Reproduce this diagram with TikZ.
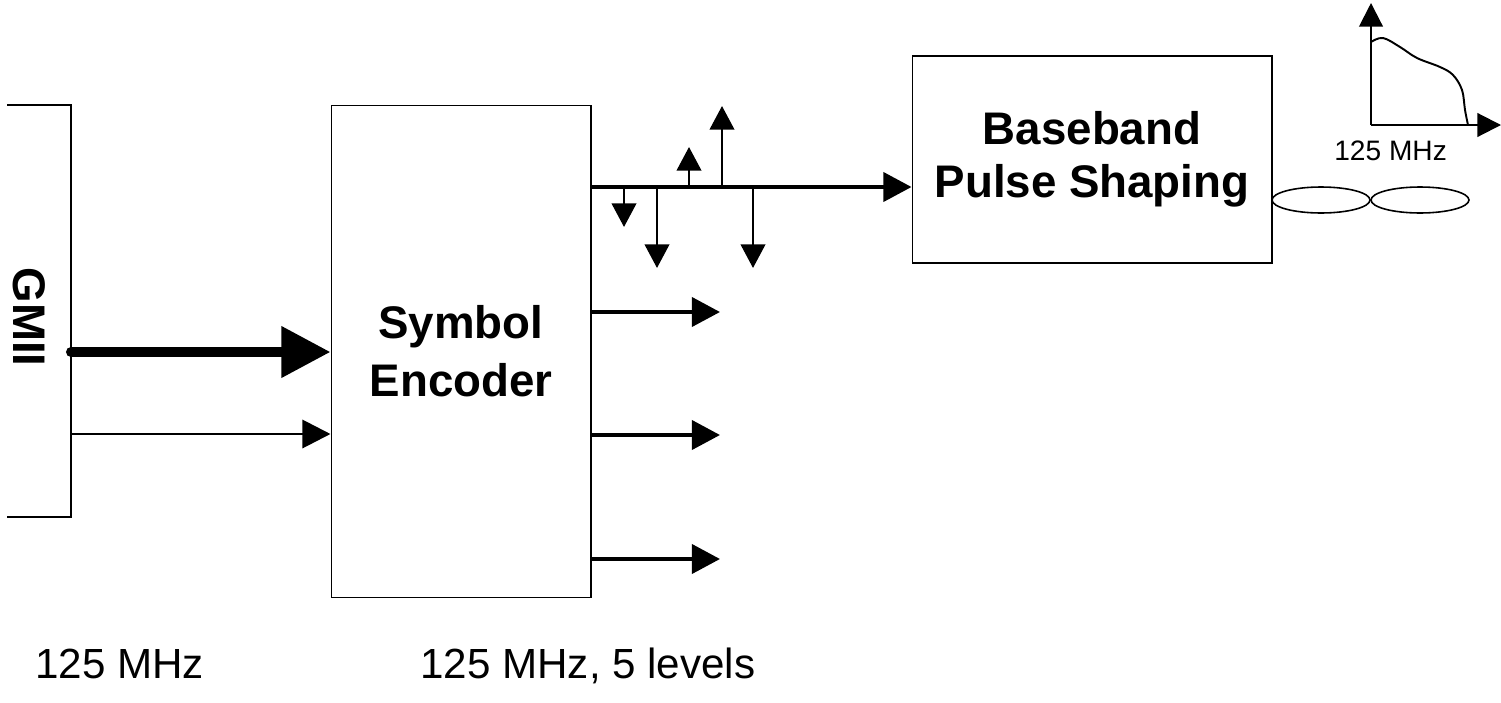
\documentclass[tikz,border=0pt]{standalone}
\usepackage{fontspec}
\setmainfont{Liberation Sans}
\usetikzlibrary{arrows.meta, positioning, calc, shapes.geometric}
\tikzset{every node/.style={font=\rmfamily}}

\begin{document}
\begin{tikzpicture}[
    x=0.02cm, y=-0.02cm,
    blockbox/.style={draw, line width=0.6pt, inner sep=0pt, align=center, font=\fontsize{26}{33}\selectfont\bfseries},
    bigarrow/.style={line width=5.7pt, line cap=round, -{Triangle[length=28pt, width=28pt]}},
    sigarrow/.style={line width=1.7pt, -{Triangle[length=16pt, width=16pt]}},
    outarrow/.style={line width=2.3pt, -{Triangle[length=16pt, width=16.5pt]}},
    pulse/.style={line width=1.4pt, -{Triangle[length=13.5pt, width=14pt]}},
    axisarrow/.style={line width=1.2pt, -{Triangle[length=13.5pt, width=13.5pt]}},
    lobe/.style={draw, ellipse, line width=0.9pt, minimum width=1.96cm, minimum height=0.52cm, inner sep=0pt},
    rate/.style={anchor=base west, inner sep=0pt, font=\fontsize{24}{28}\selectfont},
  ]
    \useasboundingbox (0,0) rectangle (1501,703);
    \node[blockbox, minimum width=5.2cm, minimum height=9.86cm] (enc) at (461,351.5) {Symbol\\Encoder};
    \node[blockbox, minimum width=7.2cm, minimum height=4.14cm, font=\fontsize{26}{30}\selectfont\bfseries] (bb) at (1092,159.5) {Baseband\\Pulse Shaping};
    \node[rotate=-90, font=\fontsize{26}{28}\selectfont\bfseries] (gmii) at (29,317) {GMII};
    \draw[line width=1.1pt] (7,105) -- (71,105) -- (71,517) -- (7,517);
    \coordinate (g1) at (71,352);
    \coordinate (g2) at (71,434);
    \draw[bigarrow] (g1) -- (g1 -| enc.west);
    \draw[sigarrow] (g2) -- (g2 -| enc.west);
    \foreach \y [count=\i] in {312,435,559} {
      \coordinate (o\i) at (720,\y);
      \draw[outarrow] (enc.east |- o\i) -- (o\i);
    }
    \coordinate (s0) at (591,187);
    \draw[outarrow] (enc.east |- s0) -- (s0 -| bb.west);
    \foreach \x/\t in {624/227, 657/268, 689/147, 722/106, 753/268}
      \draw[pulse] (\x,187) -- (\x,\t);
    \coordinate (org) at (1371,125);
    \draw[axisarrow] (org) -- (1371,3);
    \draw[axisarrow] (org) -- (1501,125);
    \draw[line width=1.1pt] plot[smooth, tension=0.6] coordinates {(1371,42) (1383,38) (1400,47) (1417,58) (1440,67) (1453,75) (1462,90) (1465,110) (1468,125)};
    \node[rate, font=\fontsize{16}{18}\selectfont] (bw) at (1334,160) {125 MHz};
    \node[lobe] (lobeL) at (1321,200) {};
    \node[lobe] (lobeR) at (1420,200) {};
    \node[rate] (clkin) at (35,678) {125 MHz};
    \node[rate] (clkout) at (420,678) {125 MHz, 5 levels};
\end{tikzpicture}
\end{document}
